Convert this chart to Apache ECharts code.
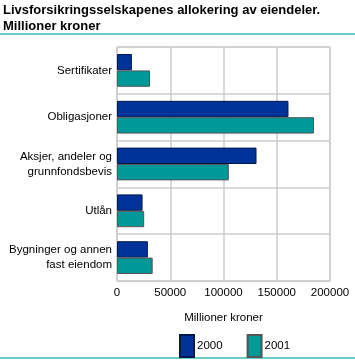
<!DOCTYPE html>
<html>
<head>
<meta charset="utf-8">
<script src="https://cdn.jsdelivr.net/npm/echarts@6/dist/echarts.min.js"></script>
<style>
html, body { margin: 0; padding: 0; background: #fff; }
#chart { width: 355px; height: 361px; }
</style>
</head>
<body>
<div id="chart"></div>
<script>
// kategorier (ovenfra og ned)
const categories = [
    'Sertifikater',
    'Obligasjoner',
    'Aksjer, andeler og\ngrunnfondsbevis',
    'Utlån',
    'Bygninger og annen\nfast eiendom'
]
const years = ['2000', '2001']
const values2000 = [14000, 161000, 131000, 24000, 29000]
const values2001 = [31000, 185000, 105000, 25500, 33500]

const chart = echarts.init(document.getElementById('chart'), null, {renderer: 'canvas'})

const font = 'Liberation Sans, Arial, sans-serif'

const option = {
    animation: false,
    textStyle: {fontFamily: font},
    title: {
        text: 'Livsforsikringsselskapenes allokering av eiendeler.\nMillioner kroner',
        left: 3,
        top: 2,
        padding: 0,
        textStyle: {
            fontSize: 13,
            fontWeight: 'bold',
            lineHeight: 16,
            color: '#000',
            fontFamily: font
        }
    },
    graphic: [
        {type: 'line', shape: {x1: 0, y1: 34, x2: 355, y2: 34}, style: {stroke: '#66cccc', lineWidth: 2}},
        {type: 'line', shape: {x1: 0, y1: 358, x2: 355, y2: 358}, style: {stroke: '#66cccc', lineWidth: 2}}
    ],
    legend: {
        data: years,
        left: 174,
        top: 329,
        icon: 'rect',
        itemWidth: 14,
        itemHeight: 22,
        itemGap: 24,
        textStyle: {fontSize: 11.5, color: '#000', padding: [0, 0, 0, -2]}
    },
    grid: {
        left: 117,
        right: 25,
        top: 47,
        bottom: 80,
        show: true,
        borderColor: '#cccccc',
        borderWidth: 1
    },
    xAxis: {
        type: 'value',
        min: 0,
        max: 200000,
        interval: 50000,
        name: 'Millioner kroner',
        nameLocation: 'middle',
        nameGap: 31,
        nameTextStyle: {fontSize: 11.5, color: '#000'},
        axisLine: {show: true, lineStyle: {color: '#cccccc'}},
        axisTick: {show: false},
        axisLabel: {fontSize: 11.5, color: '#000', margin: 6, formatter: v => String(v)},
        splitLine: {lineStyle: {color: '#cccccc', width: 1.5}}
    },
    yAxis: {
        type: 'category',
        data: categories,
        inverse: true,
        axisLine: {show: true, lineStyle: {color: '#cccccc'}},
        axisTick: {show: false},
        axisLabel: {fontSize: 11.5, color: '#000', lineHeight: 15, margin: 5, align: 'right'},
        splitLine: {show: true, lineStyle: {color: '#cccccc', width: 1.5}}
    },
    series: [
        {
            name: '2000',
            type: 'bar',
            data: values2000,
            barGap: '0%',
            barCategoryGap: '30%',
            itemStyle: {color: '#003399', borderColor: '#001a4d', borderWidth: 1}
        },
        {
            name: '2001',
            type: 'bar',
            data: values2001,
            barGap: '0%',
            barCategoryGap: '30%',
            itemStyle: {color: '#009999', borderColor: '#555555', borderWidth: 1}
        }
    ]
}

chart.setOption(option)
</script>
</body>
</html>
